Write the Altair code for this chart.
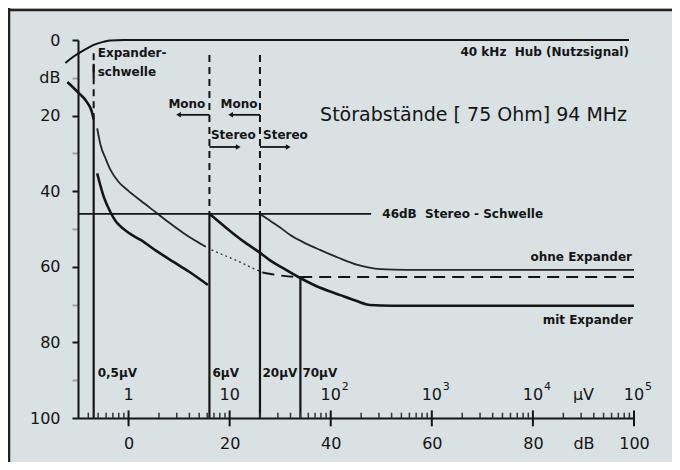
import math
import altair as alt
import pandas as pd

INK = "#151515"
BG = "#d9e1e2"
FONT = "DejaVu Sans"

# ---- curves (x in dB, y in dB) ----
hub_x = [-12.5, -11.0, -9.5, -8.0, -6.9, -5.0, -3.6, -1.0, 99.0]
hub_y = [6.1, 4.5, 3.2, 2.1, 1.3, 0.5, 0.1, 0.0, 0.0]

knee_x = [-12.1, -10.1, -8.1, -7.3, -6.9]
knee_y = [11.1, 13.7, 16.7, 18.8, 21.0]

mono_ohne_x = [-6.2, -5.5, -4.5, -3.6, -2.0, -0.2, 2.5, 5.7, 8.0, 10.9, 13.0, 15.3]
mono_ohne_y = [23.4, 28.0, 31.5, 34.3, 37.5, 39.7, 42.6, 45.9, 48.3, 51.1, 52.9, 54.7]

mono_mit_x = [-6.2, -4.9, -3.6, -2.6, -1.9, 0.0, 2.4, 5.5, 8.9, 12.0, 15.7]
mono_mit_y = [35.3, 41.5, 45.5, 47.8, 48.9, 51.0, 52.9, 55.8, 58.7, 61.3, 64.8]

stereo_mit_x = [16, 18, 21, 23.5, 25.7, 28, 30.5, 33.6, 37, 41.9, 45, 47.8, 52, 100]
stereo_mit_y = [46, 48.2, 51.5, 54, 56, 58.3, 60.3, 62.7, 65, 67.5, 69, 70.1, 70.3, 70.3]

stereo_ohne_x = [26, 28, 30, 32, 35, 38, 41.5, 45.3, 49.8, 55, 100]
stereo_ohne_y = [46, 47.8, 49.6, 51.6, 53.8, 55.6, 57.6, 59.5, 60.6, 60.8, 60.8]

dotted_x = [16.4, 19, 21.5, 24, 26.5]
dotted_y = [55.5, 57, 58.4, 60, 61.5]

dashed_x = [26.5, 30, 33.6, 100]
dashed_y = [61.5, 62.3, 62.7, 62.7]

# vertical markers: x, from, to
vsolid_x = [-6.9, -6.9, 16, 26, 34]
vsolid_y1 = [20.5, 6.3, 46, 46, 62.7]
vsolid_y2 = [100, 10.0, 100, 100, 100]
vdash_x = [-6.9, 16, 26]
vdash_y1 = [3.5, 4, 4]
vdash_y2 = [20.5, 46, 46]

# stereo threshold
thr_x = [-10]
thr_x2 = [48]
thr_y = [46]

# arrows
arrow_x = [16, 26, 16, 26]
arrow_x2 = [9.9, 20.2, 21.7, 31.6]
arrow_y = [19.8, 19.8, 28.3, 28.3]
arrow_dir = ["left", "left", "right", "right"]

# labels
left_text = ["Expander-", "schwelle", "Stereo", "Stereo", "46dB\u00a0 Stereo - Schwelle",
             "0,5\u00b5V", "6\u00b5V", "20\u00b5V", "70\u00b5V"]
left_x = [-6.1, -6.1, 16.3, 26.6, 50.2, -6.1, 16.6, 26.5, 34.4]
left_y = [3.5, 8.5, 25.1, 25.1, 46.0, 88.0, 88.0, 88.0, 88.0]

right_text = ["Mono", "Mono", "40 kHz\u00a0 Hub (Nutzsignal)", "ohne Expander", "mit Expander"]
right_x = [15.2, 25.5, 99.0, 99.6, 99.8]
right_y = [16.9, 16.9, 3.2, 57.4, 74.0]

title_text = ["St\u00f6rabst\u00e4nde [ 75 Ohm] 94 MHz"]
title_x = [37.9]
title_y = [19.8]

uv_text = ["1", "10", "10", "10", "10", "\u00b5V", "10"]
uv_x = [0, 20, 40, 60, 80, 90, 100]
uv_y = [93.9] * 7
exp_text = ["2", "3", "4", "5"]
exp_x = [40, 60, 80, 100]
exp_y = [91.8] * 4

major_ticks = [0, 20, 40, 60, 80, 100]
minor_ticks = [20 * math.log10(k * 10 ** d) for d in range(-1, 5) for k in range(2, 10)
               if 20 * math.log10(k * 10 ** d) >= -10]

# ---- scales / axes ----
xscale = alt.Scale(domain=[-10, 100], nice=False, zero=False)
yscale = alt.Scale(domain=[0, 100], reverse=True, nice=False, zero=False)

xaxis = alt.Axis(values=[0, 20, 40, 60, 80, 90, 100],
                 labelExpr="datum.value == 90 ? 'dB' : datum.label",
                 ticks=False, labelPadding=17, labelFlush=False, labelOverlap=False,
                 domainColor=INK, domainWidth=2, grid=False, title=None,
                 labelFontSize=16, labelColor=INK, labelFont=FONT)
yaxis = alt.Axis(values=[0, 10, 20, 30, 40, 50, 60, 70, 80, 90, 100],
                 labelExpr="datum.value == 10 ? 'dB' : (datum.value % 20 == 0 ? datum.label : '')",
                 tickSize=6, tickWidth=2, tickColor=INK,
                 tickOpacity={"condition": {"test": "datum.value % 20 != 0", "value": 0.3}, "value": 1},
                 labelPadding=12, labelFlush=False, labelOverlap=False,
                 domainColor=INK, domainWidth=2, grid=False, title=None,
                 labelFontSize=16, labelColor=INK, labelFont=FONT)


def X(f="x"):
    return alt.X(f"{f}:Q", scale=xscale, axis=xaxis)


def Y(f="y"):
    return alt.Y(f"{f}:Q", scale=yscale, axis=yaxis)


def line(xs, ys, width, dash=None, color=INK):
    kw = dict(color=color, strokeWidth=width, interpolate="monotone", clip=False)
    if dash:
        kw["strokeDash"] = dash
    return alt.Chart(pd.DataFrame({"x": xs, "y": ys})).mark_line(**kw).encode(x=X(), y=Y())


layers = []
layers.append(line(hub_x, hub_y, 2.0))
layers.append(line(knee_x, knee_y, 2.6))
layers.append(line(mono_ohne_x, mono_ohne_y, 1.8, color="#262626"))
layers.append(line(mono_mit_x, mono_mit_y, 2.6))
layers.append(line(stereo_mit_x, stereo_mit_y, 2.6))
layers.append(line(stereo_ohne_x, stereo_ohne_y, 1.8, color="#262626"))
layers.append(line(dotted_x, dotted_y, 1.3, dash=[2, 3], color="#333333"))
layers.append(line(dashed_x, dashed_y, 2.0, dash=[12, 7]))

vs = pd.DataFrame({"x": vsolid_x, "y": vsolid_y1, "y2": vsolid_y2})
layers.append(alt.Chart(vs).mark_rule(color=INK, strokeWidth=2.2).encode(
    x=X(), y=Y(), y2=alt.Y2("y2")))
vd = pd.DataFrame({"x": vdash_x, "y": vdash_y1, "y2": vdash_y2})
layers.append(alt.Chart(vd).mark_rule(color=INK, strokeWidth=2.0, strokeDash=[7, 5]).encode(
    x=X(), y=Y(), y2=alt.Y2("y2")))

th = pd.DataFrame({"x": thr_x, "x2": thr_x2, "y": thr_y})
layers.append(alt.Chart(th).mark_rule(color=INK, strokeWidth=1.6).encode(
    x=X(), x2=alt.X2("x2"), y=Y()))

ar = pd.DataFrame({"x": arrow_x, "x2": arrow_x2, "y": arrow_y, "d": arrow_dir})
layers.append(alt.Chart(ar).mark_rule(color=INK, strokeWidth=1.8).encode(
    x=X(), x2=alt.X2("x2"), y=Y()))
tips = pd.DataFrame({"x": arrow_x2, "y": arrow_y, "d": arrow_dir})
layers.append(alt.Chart(tips).transform_filter("datum.d == 'left'").mark_point(
    shape="triangle-left", filled=True, size=30, color=INK, opacity=1).encode(x=X(), y=Y()))
layers.append(alt.Chart(tips).transform_filter("datum.d == 'right'").mark_point(
    shape="triangle-right", filled=True, size=30, color=INK, opacity=1).encode(x=X(), y=Y()))

mt = pd.DataFrame({"x": major_ticks, "y": [98.0] * 6, "y2": [102.2] * 6})
layers.append(alt.Chart(mt).mark_rule(color=INK, strokeWidth=2, clip=False).encode(
    x=X(), y=Y(), y2=alt.Y2("y2")))
nt = pd.DataFrame({"x": minor_ticks, "y": [98.6] * len(minor_ticks), "y2": [100.0] * len(minor_ticks)})
layers.append(alt.Chart(nt).mark_rule(color="#333333", strokeWidth=1.5, clip=False).encode(
    x=X(), y=Y(), y2=alt.Y2("y2")))


def texts(t, xs, ys, align, size, weight, dx=0, dy=0):
    d = pd.DataFrame({"x": xs, "y": ys, "t": t})
    return alt.Chart(d).mark_text(align=align, baseline="middle", font=FONT, fontSize=size,
                                  fontWeight=weight, color=INK, dx=dx, dy=dy, clip=False).encode(
        x=X(), y=Y(), text="t:N")


layers.append(texts(left_text, left_x, left_y, "left", 12, "bold"))
layers.append(texts(right_text, right_x, right_y, "right", 12, "bold"))
layers.append(texts(title_text, title_x, title_y, "left", 19, "normal"))
layers.append(texts(uv_text, uv_x, uv_y, "center", 16, "normal"))
layers.append(texts(exp_text, exp_x, exp_y, "left", 11, "normal", dx=11))

frame = pd.DataFrame({"a": [0]})
layers.append(alt.Chart(frame).mark_rule(color="#222222", strokeWidth=2.5).encode(
    x=alt.value(-69), y=alt.value(-32), y2=alt.value(422)))
layers.append(alt.Chart(frame).mark_rule(color="#222222", strokeWidth=2.5).encode(
    x=alt.value(-70), x2=alt.value(594), y=alt.value(-30)))

chart = alt.layer(*layers).properties(
    width=556, height=378,
    padding={"left": 70, "top": 32, "right": 38, "bottom": 44},
    autosize=alt.AutoSizeParams(type="none"),
    background=BG,
).configure_view(stroke=None)

chart.save("out.html", embed_options={"renderer": "svg", "actions": False})
